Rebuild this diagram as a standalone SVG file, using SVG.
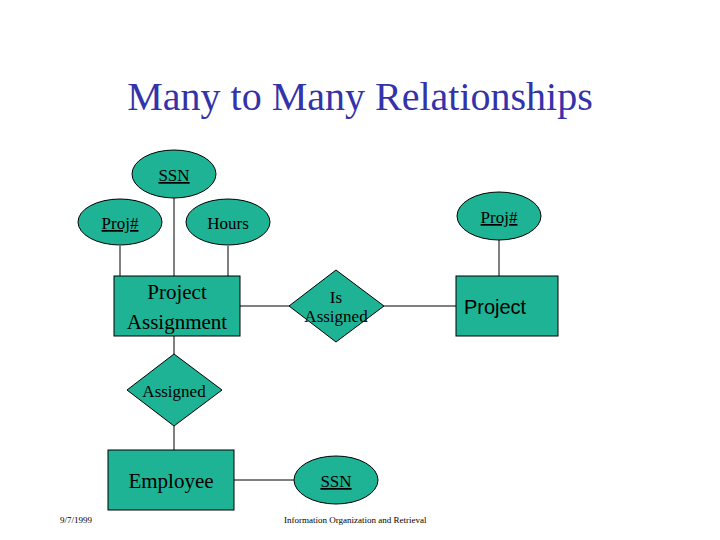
<svg xmlns="http://www.w3.org/2000/svg" width="720" height="540" viewBox="0 0 720 540">
<style>
.s{fill:#1db394;stroke:#000;stroke-width:1}
.t{font-family:"Liberation Serif",serif;font-size:17px;fill:#000;text-anchor:middle}
.b{font-size:21px}
.u{text-decoration:underline}
.c line{stroke:#000;stroke-width:1}
.f{font-family:"Liberation Serif",serif;font-size:9px;fill:#000}
</style>
<rect width="720" height="540" fill="#fff"/>
<text x="360" y="110" style="font-family:'Liberation Serif',serif;font-size:40px;fill:#3333aa;text-anchor:middle">Many to Many Relationships</text>
<g class="c">
<line x1="120" y1="246" x2="120" y2="276"/>
<line x1="174" y1="198" x2="174" y2="276"/>
<line x1="228" y1="246" x2="228" y2="276"/>
<line x1="240" y1="306" x2="289" y2="306"/>
<line x1="384" y1="306" x2="456" y2="306"/>
<line x1="499" y1="240" x2="499" y2="276"/>
<line x1="174" y1="336" x2="174" y2="354"/>
<line x1="174" y1="426" x2="174" y2="450"/>
<line x1="234" y1="480" x2="294" y2="480"/>
</g>
<g id="ssn1"><ellipse class="s" cx="174" cy="174" rx="42" ry="24"/><text class="t u" x="174" y="181">SSN</text></g>
<g id="proj1"><ellipse class="s" cx="120" cy="222" rx="42" ry="23"/><text class="t u" x="120" y="229">Proj#</text></g>
<g id="hours"><ellipse class="s" cx="228" cy="222" rx="42" ry="23"/><text class="t" x="228" y="229">Hours</text></g>
<g id="pa"><rect class="s" x="114" y="276" width="126" height="60"/><text class="t b" x="177" y="299">Project</text><text class="t b" x="177" y="329">Assignment</text></g>
<g id="isassigned"><polygon class="s" points="336,270 384,306 336,342 289,306"/><text class="t" x="336" y="303">Is</text><text class="t" x="336" y="322">Assigned</text></g>
<g id="project"><rect class="s" x="456" y="276" width="102" height="60"/><text x="495" y="314" style="font-family:'Liberation Sans',sans-serif;font-size:20px;text-anchor:middle">Project</text></g>
<g id="proj2"><ellipse class="s" cx="499" cy="216" rx="42" ry="24"/><text class="t u" x="499" y="223">Proj#</text></g>
<g id="assigned"><polygon class="s" points="174,354 222,390 174,426 127,390"/><text class="t" x="174" y="397">Assigned</text></g>
<g id="employee"><rect class="s" x="108" y="450" width="126" height="60"/><text class="t b" x="171" y="488">Employee</text></g>
<g id="ssn2"><ellipse class="s" cx="336" cy="480" rx="42" ry="24"/><text class="t u" x="336" y="487">SSN</text></g>
<text class="f" x="60" y="523">9/7/1999</text>
<text class="f" x="284" y="523">Information Organization and Retrieval</text>
</svg>
